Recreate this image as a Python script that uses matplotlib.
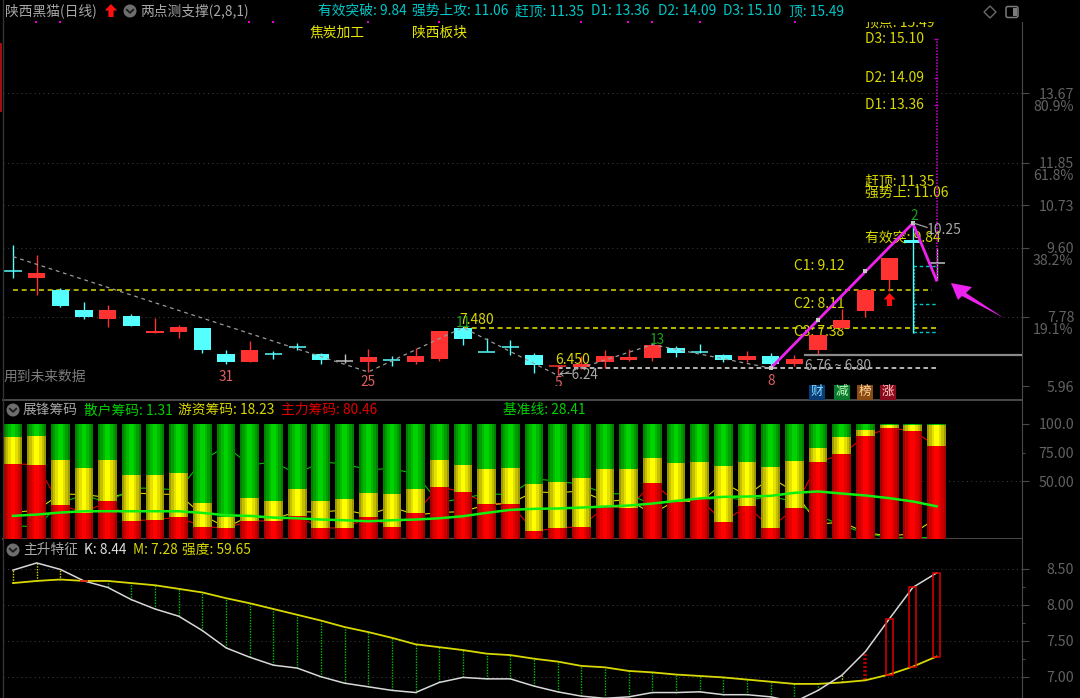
import matplotlib
matplotlib.use("Agg")
import matplotlib.pyplot as plt
from matplotlib.patches import Polygon, Circle, Rectangle, FancyBboxPatch

plt.rcParams['font.family'] = ['Noto Sans CJK SC', 'DejaVu Sans']

# ---------- candle data ----------
opens  = [8.99,8.81,8.49,7.95,7.73,7.81,7.36,7.38,7.50,6.81,6.60,6.84,7.00,6.81,6.62,6.58,6.65,6.60,6.67,7.50,6.87,6.99,6.79,
          6.49,6.45,6.58,6.64,6.70,6.95,6.87,6.78,6.64,6.75,6.55,6.91,7.49,7.93,8.75,9.81,9.19]
closes = [8.98,8.95,8.08,7.79,7.95,7.54,7.42,7.51,6.91,6.60,6.90,6.79,6.96,6.64,6.63,6.72,6.62,6.74,7.41,7.21,6.85,6.96,6.51,
          6.51,6.53,6.74,6.72,7.05,6.82,6.85,6.64,6.74,6.54,6.68,7.31,7.71,8.48,9.33,9.74,9.19]
highs  = [9.67,9.40,8.55,8.17,8.09,7.87,7.74,7.56,7.50,6.90,7.15,6.87,7.10,6.82,6.80,6.93,6.75,6.96,7.41,7.54,7.23,7.16,6.84,
          6.51,6.75,6.90,6.93,7.05,7.01,7.08,6.80,6.87,6.82,6.79,7.31,8.00,8.48,9.33,10.25,9.60]
lows   = [8.81,8.35,8.04,7.72,7.51,7.54,7.36,7.23,6.82,6.54,6.60,6.66,6.90,6.54,6.56,6.33,6.50,6.54,6.61,7.05,6.87,6.79,6.31,
          6.24,6.40,6.43,6.61,6.61,6.72,6.84,6.58,6.59,6.43,6.49,6.80,7.45,7.77,8.46,7.37,8.75]
candle_kind = ['c','r','c','c','r','c','r','r','c','c','r','c','c','c','g','r','c','r','r','c','c','c','c',
               'r','r','r','r','r','c','c','c','r','c','r','r','r','r','r','c','g']

pivot_idx   = [0,15,19,23,27,32]
pivot_price = [9.37,6.33,7.50,6.24,7.05,6.43]
wave_idx    = [32,38,39]
wave_price  = [6.43,10.25,8.75]
wave_marks_idx   = [32,34,36,38]
wave_marks_price = [6.43,7.70,8.98,10.25]

level_c_names  = ['C1','C2','C3']
level_c_values = [9.12,8.11,7.38]
level_names  = ['D3','D2','D1','赶顶','强势上','有效突']
level_values = [15.10,14.09,13.36,11.35,11.06,9.84]

price_ticks  = [13.67,11.85,10.73,9.60,7.78,5.96]
price_pcts   = ['80.9%','61.8%','','38.2%','19.1%','']

# ---------- chip data ----------
main_chip = [65.4,64.5,29.7,23.0,32.6,15.7,16.9,18.9,10.8,9.6,15.7,15.7,19.8,9.6,9.6,18.9,10.8,22.7,45.6,40.7,
             30.8,30.8,6.7,9.6,10.8,27.9,26.7,48.8,32.0,34.9,14.8,28.8,9.6,26.7,66.6,73.5,89.5,96.2,94.2,80.46]
hot_chip  = [23.0,25.0,39.0,38.7,36.0,40.1,39.0,38.7,20.9,9.9,20.1,17.4,23.8,23.3,25.3,20.9,27.9,20.9,23.0,23.8,
             29.9,30.8,41.0,40.1,41.8,32.8,34.0,21.8,33.7,31.7,48.8,37.8,53.2,41.1,12.8,14.8,5.5,2.6,4.7,18.23]
retail_chip = [11.6,10.5,31.3,38.3,31.4,44.2,44.1,42.4,68.3,80.5,64.2,66.9,56.4,67.1,65.1,60.2,61.3,56.4,31.4,35.5,
               39.3,38.4,52.3,50.3,47.4,39.3,39.3,29.4,34.3,33.4,36.4,33.4,37.2,32.2,20.6,11.7,5.0,1.2,1.1,1.31]
base_line = [20.1,21.2,23.0,24.1,24.1,24.1,24.1,24.1,22.7,20.6,20.1,18.6,18.0,16.9,16.3,15.4,16.3,16.9,18.0,19.8,
             22.7,25.3,26.2,26.5,27.3,28.2,29.1,30.8,33.1,35.2,36.6,36.9,37.5,40.1,41.3,39.5,37.8,35.5,32.6,28.41]

# ---------- K / M data ----------
k_line = [8.48,8.58,8.49,8.33,8.24,8.07,7.94,7.84,7.64,7.40,7.27,7.16,7.12,7.00,6.91,6.86,6.81,6.78,6.92,6.99,
          6.97,6.97,6.87,6.79,6.73,6.70,6.72,6.78,6.78,6.79,6.75,6.75,6.72,6.65,6.81,7.02,7.35,7.80,8.24,8.44]
m_line = [8.30,8.33,8.35,8.33,8.33,8.30,8.27,8.22,8.17,8.09,8.02,7.94,7.86,7.78,7.69,7.62,7.54,7.45,7.41,7.37,
          7.32,7.30,7.25,7.21,7.15,7.13,7.08,7.06,7.03,7.01,6.99,6.96,6.93,6.90,6.90,6.92,6.95,7.03,7.14,7.28]

W, H = 1080, 698
BG = '#000000'
GRID = '#383838'
AXC = '#4a4a4a'
TICKC = '#626262'
xs = list(range(len(opens)))
fig = plt.figure(figsize=(W/100, H/100), dpi=100, facecolor=BG)

def make_ax(top, bottom):
    ax = fig.add_axes([3/W, 1-bottom/H, (1022-3)/W, (bottom-top)/H], facecolor=BG)
    ax.set_xlim((3-13)/23.68, (1022-13)/23.68)
    ax.set_xticks([])
    for s in ['top','left']:
        ax.spines[s].set_visible(False)
    ax.spines['right'].set_color(AXC)
    ax.spines['bottom'].set_color(AXC)
    ax.spines['bottom'].set_linewidth(1.4)
    ax.yaxis.tick_right()
    return ax

# ---------- price panel ----------
ax1 = make_ax(22, 400)
ax1.set_ylim(5.96-14/37.94, 5.96+364/37.94)
ax1.set_yticks(price_ticks, [f'{v:.2f}' for v in price_ticks], ha='right', color=TICKC, fontsize=10.2)
ax1.tick_params(axis='y', color=AXC, length=4.7, width=.8, pad=33)
ax1.hlines(price_ticks[:-1], -0.42, 42.6, color=GRID, lw=.8, ls=(0,(1,3)), zorder=1)

for p, pct in zip(price_ticks, price_pcts):
    if pct:
        ax1.annotate(pct, (1, p), xycoords=('axes fraction','data'), xytext=(37, -9.6), textcoords='offset points',
                     ha='right', va='center', color=TICKC, fontsize=10.2)

# labels that lie underneath the candles
for name, val in zip(level_names, level_values):
    ax1.text(36.0, val, f'{name}: {val:.2f}', color='#d8d800', fontsize=10, va='center', ha='left', zorder=2)
ax1.text(36.0, 15.53, '顶点: 15.49', color='#d8d800', fontsize=10, va='center', ha='left', clip_on=True, zorder=2)
for name, val in zip(level_c_names, level_c_values):
    ax1.text(33.0, val, f'{name}: {val:.2f}', color='#d8d800', fontsize=10, va='center', ha='left', zorder=2)

ax1.hlines(8.49, 0, 38.8, color='#c8c800', lw=1.2, ls=(0,(3,2.2)), zorder=3)
ax1.hlines(7.48, 19, 39, color='#d8d800', lw=1.2, ls=(0,(3,2.2)), zorder=3)
ax1.hlines(6.44, 23, 39, color='#e8e8e8', lw=1.1, ls=(0,(3,2.2)), zorder=3)
ax1.hlines(6.79, 33.4, 42.6, color='#8a8a8a', lw=1.6, zorder=3)
ax1.hlines(level_c_values, 38, 39, color='#00c8c8', lw=1.0, ls=(0,(2.5,2)), zorder=3)
ax1.vlines(38.03, 7.37, 9.12, color='#009a9a', lw=1.0, ls=(0,(1.5,1)), zorder=3)

color_map = {'r':'#ff3232','c':'#54ffff','g':'#c0c0c0'}
for i in xs:
    c = color_map[candle_kind[i]]
    ax1.vlines(i, lows[i], highs[i], color=c, lw=1.0, zorder=4)
    bot, top = min(opens[i], closes[i]), max(opens[i], closes[i])
    if top-bot < 0.05:
        ax1.hlines((top+bot)/2, i-.36, i+.36, color=c, lw=1.1, zorder=5)
    else:
        ax1.bar(i, top-bot, .73, bot, color=c, zorder=5, linewidth=0)

ax1.plot(pivot_idx, pivot_price, color='#9a9a9a', lw=.9, ls=(0,(3,3)), zorder=6)
ax1.vlines(39, 8.75, 15.10, color='#b800b8', lw=1.2, ls=(0,(1,.8)), zorder=6)
ax1.hlines([15.10,14.09,13.36], 38.9, 39.05, color='#b800b8', lw=1.0, zorder=6)
ax1.plot(wave_idx, wave_price, color='#ee22ee', lw=2.0, zorder=7)
ax1.scatter(wave_marks_idx, wave_marks_price, marker='s', s=11, color='#c8c8c8', zorder=8, linewidths=0)

def value_label(x, y, s, color, size=9.8, ha='center', clip=False):
    t = ax1.text(x, y, s, color=color, fontsize=size, ha=ha, va='center', zorder=9)
    if clip:
        t.set_clip_path(Rectangle((0, 5.96), 45, 12, transform=ax1.transData))
        t.set_clip_on(True)
    return t

value_label(9, 5.96+(1160-1133)/113.8, '31', '#e06060')
value_label(15, 5.96+(1160-1147)/113.8, '25', '#e06060', clip=True)
value_label(32, 5.96+(1160-1145)/113.8, '8', '#e06060')
value_label(23.05, 5.96+(1160-1152)/113.8, '5', '#e06060', clip=True)
value_label(19, 5.96+(1160-970)/113.8, '11', '#18a018')
value_label(27.2, 5.96+(1160-1023)/113.8, '13', '#18a018')
value_label(38.05, 5.96+(1160-650)/113.8, '2', '#18a018')
value_label(18.85, 5.96+(1160-962)/113.8, '7.480', '#d8d800', size=10, ha='left')
value_label(22.9, 5.96+(1160-1083)/113.8, '6.450', '#d8d800', size=10, ha='left')
value_label(23.05, 6.24, '←6.24', '#a8a8a8', ha='left')
value_label(33.45, 6.49, '6.76 ~ 6.80', '#a8a8a8', ha='left')
value_label(38.6, 10.08, '10.25', '#a8a8a8', ha='left', size=10)
ax1.plot([38.05, 38.6], [10.25, 10.14], color='#a0a0a0', lw=.9, zorder=8)

# ---------- chip panel ----------
ax2 = make_ax(401, 539)
ax2.set_ylim(0, (538.5-401)/1.147)
ax2.set_yticks([100,50], ['100.0','50.00'], ha='right', color=TICKC, fontsize=10.2)
ax2.set_yticks([75], ['75.00'], minor=True, ha='right', color=TICKC, fontsize=10.2)
ax2.tick_params(axis='y', which='major', color=AXC, length=4.7, width=.8, pad=33)
ax2.tick_params(axis='y', which='minor', color=AXC, length=2.4, width=.8, pad=35.3)
ax2.hlines(50, 38, 42.6, color=GRID, lw=.8, ls=(0,(1,3)), zorder=1)

tops2 = [m+h for m, h in zip(main_chip, hot_chip)]
ax2.plot(xs, main_chip, color='#e00000', lw=.8, zorder=2)
ax2.plot(xs, hot_chip, color='#d8d800', lw=.8, zorder=2)
ax2.plot(xs, retail_chip, color='#00c000', lw=.8, zorder=2)

shades_r = ['#a80000','#c80000','#e40000','#ff0000']
shades_y = ['#a09a00','#c4c000','#e4e000','#ffff00']
shades_g = ['#008000','#009c00','#00b800','#00d400']
widths = [.79,.62,.42,.2]
for sh_r, sh_y, sh_g, w in zip(shades_r, shades_y, shades_g, widths):
    ax2.bar(xs, main_chip, w, color=sh_r, linewidth=0, zorder=3)
    ax2.bar(xs, hot_chip, w, bottom=main_chip, color=sh_y, linewidth=0, zorder=3)
    ax2.bar(xs, retail_chip, w, bottom=tops2, color=sh_g, linewidth=0, zorder=3)
ax2.plot(xs, base_line, color='#10f010', lw=1.8, zorder=4)

# ---------- K/M panel ----------
ax3 = make_ax(539, 698)
ax3.spines['bottom'].set_visible(False)
ax3.set_ylim(7+(676.7-698)/72, 7+(676.7-539)/72)
k3 = [8.5,8.0,7.5,7.0]
ax3.set_yticks(k3, [f'{v:.2f}' for v in k3], ha='right', color=TICKC, fontsize=10.2)
ax3.set_yticks([8.25,7.75,7.25], minor=True)
ax3.tick_params(axis='y', which='major', color=AXC, length=4.7, width=.8, pad=33)
ax3.tick_params(axis='y', which='minor', color=AXC, length=2.4, width=.8)
ax3.hlines(k3, -0.42, 42.6, color=GRID, lw=.8, ls=(0,(1,3)), zorder=1)

for i in xs:
    k, m = k_line[i], m_line[i]
    if k < m:
        ax3.vlines(i, k, m, color='#00c000', lw=1.0, ls=(0,(1,1)), zorder=2)
    elif i <= 2 or i == 35:
        ax3.vlines(i, m, k, color='#d8d800', lw=1.0, ls=(0,(1,1)), zorder=2)
    elif i == 36:
        ax3.vlines(i, m, k, color='#b00000', lw=2.6, ls=(0,(.6,.5)), zorder=2)
    else:
        ax3.bar(i, k-m, .3, m, fill=False, edgecolor='#e00000', linewidth=1.1, zorder=4)
ax3.plot(xs, m_line, color='#d8d800', lw=1.3, zorder=3)
ax3.plot(xs, k_line, color='#d8d8d8', lw=1.1, zorder=3)

# ---------- overlay: headers, icons, arrows ----------
ov = fig.add_axes([0,0,1,1], facecolor='none', zorder=20)
ov.set_xlim(0, W); ov.set_ylim(H, 0); ov.axis('off')

def t(x, y, s, c, size=9.9, ha='left'):
    ov.text(x, y, s, color=c, fontsize=size, ha=ha, va='center')

def chevron(x, y):
    ov.add_patch(Circle((x, y), 6.5, color='#6e6e6e', lw=0))
    ov.plot([x-3.2, x, x+3.2], [y-1.2, y+1.8, y-1.2], color='#1a1a1a', lw=1.3)

def up_arrow(cx, top, bottom, half):
    mid = top + (bottom-top)*.5
    ov.add_patch(Polygon([(cx, top), (cx+half, mid), (cx+half*.42, mid), (cx+half*.42, bottom),
                          (cx-half*.42, bottom), (cx-half*.42, mid), (cx-half, mid)], color='#ff1010', lw=0))

GREY_T = '#a8a8a8'
t(5, 11, '陕西黑猫(日线)', GREY_T)
up_arrow(111, 4, 17, 6.2)
chevron(130, 11)
t(140, 11, '两点测支撑(2,8,1)', GREY_T)

hdr_x = [317.5, 412, 515, 591, 658, 723, 789]
hdr_s = ['有效突破: 9.84','强势上攻: 11.06','赶顶: 11.35','D1: 13.36','D2: 14.09','D3: 15.10','顶: 15.49']
for x, s in zip(hdr_x, hdr_s):
    t(x, 11, s, '#00c8c8')

t(310, 32.5, '焦炭加工', '#e8e800')
t(412, 32.5, '陕西板块', '#e8e800')

dots_x = [36,60,249,273,368,439,581,628,652,700,795]
ov.scatter(dots_x, [22]*len(dots_x), marker='s', s=3, color='#e000e0', linewidths=0)

t(4, 377, '用到未来数据', '#7c7c7c')

# diamond + panel button
ov.add_patch(Polygon([(984,12),(990,6),(996,12),(990,18)], fill=False, edgecolor='#6a6a6a', lw=1))
ov.add_patch(FancyBboxPatch((1006,6.5),12,11,boxstyle='round,pad=0,rounding_size=2', fill=False, edgecolor='#7a7a7a', lw=1.1))
ov.add_patch(Rectangle((1013,8),3.5,8,color='#7a7a7a',lw=0))

ov.add_patch(Rectangle((0,43),2.2,69,color='#a01010',lw=0))
ov.plot([2.5,2.5],[0,H],color='#333333',lw=1)

# magenta pointer
ov.add_patch(Polygon([(951,283),(972,287),(966,293),(1004,318),(962,296),(958,300)], color='#ee22ee', lw=0))
up_arrow(889.5, 293, 306, 6)

# badges
bx = [817,842,865,888]
bc = ['#0a3c78','#0c7a2c','#8a4c12','#8a0c1c']
bs = ['财','减','榜','涨']
btc = ['#80e0ff','#c0ffc0','#ffd8a0','#ffc8c8']
for x, fc, s, tc in zip(bx, bc, bs, btc):
    ov.add_patch(Rectangle((x-8, 384.5), 16, 15, color=fc, lw=0))
    ov.text(x, 391.5, s, color=tc, fontsize=9, ha='center', va='center')

# panel 2 header
chevron(13, 410)
t(23, 410, '展锋筹码', GREY_T)
t(84, 410, '散户筹码: 1.31', '#00d000')
t(178, 410, '游资筹码: 18.23', '#d8d800')
t(281, 410, '主力筹码: 80.46', '#e00000')
t(503, 410, '基准线: 28.41', '#00d000')

# panel 3 header
chevron(13, 550)
t(23, 550, '主升特征', GREY_T)
t(84, 550, 'K: 8.44', '#e0e0e0')
t(133, 550, 'M: 7.28', '#d8d800')
t(182, 550, '强度: 59.65', '#d8d800')

fig.savefig('out.png', dpi=100, facecolor=BG)
